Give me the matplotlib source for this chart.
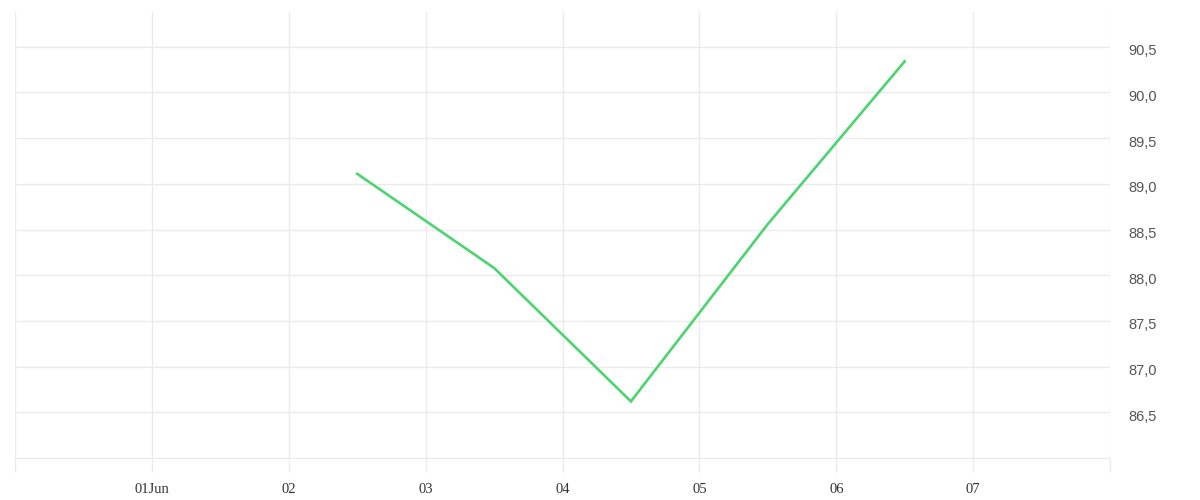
import matplotlib
matplotlib.use("Agg")
import matplotlib.pyplot as plt
import matplotlib.transforms as mtransforms
import pandas as pd

# Data
dates = pd.to_datetime(["2023-06-02 12:00", "2023-06-03 12:00", "2023-06-04 12:00",
                        "2023-06-05 12:00", "2023-06-06 12:00"])
values = [89.11, 88.08, 86.62, 88.56, 90.34]
tick_dates = pd.date_range("2023-05-31", "2023-06-08", freq="D")
tick_labels = ["", "01Jun", "02", "03", "04", "05", "06", "07", ""]
ytick_vals = [86.5, 87.0, 87.5, 88.0, 88.5, 89.0, 89.5, 90.0, 90.5]
ytick_labels = ["86,5", "87,0", "87,5", "88,0", "88,5", "89,0", "89,5", "90,0", "90,5"]

W, H = 1200, 500
fig = plt.figure(figsize=(W / 100, H / 100), dpi=100)
ax = fig.add_axes([15 / W, (H - 459) / H, (1110 - 15) / W, (459 - 12) / H])

grid_c = "#ebebeb"
ax.plot(dates, values, color="#4CD471", linewidth=1.9, solid_joinstyle="miter", zorder=3)

ax.set_xlim(tick_dates[0], tick_dates[-1])
ax.set_ylim(85.99, 90.88)

ax.set_xticks(tick_dates)
ax.set_xticklabels(tick_labels, family="Liberation Serif", fontsize=10.5, color="#333333")
ax.set_yticks([86.0] + ytick_vals)
ax.set_yticklabels([""] + ytick_labels, family="Liberation Sans", fontsize=10.5, color="#555555")

ax.yaxis.tick_right()
ax.tick_params(axis="y", length=0, pad=13)
ax.tick_params(axis="x", length=9, width=1, color=grid_c, pad=8)

offset = mtransforms.ScaledTranslation(0, -3 / 100, fig.dpi_scale_trans)
for lab in ax.get_yticklabels():
    lab.set_transform(lab.get_transform() + offset)

ax.grid(True, color=grid_c, linewidth=1)
ax.set_axisbelow(True)
for s in ax.spines.values():
    s.set_visible(False)

fig.savefig("out.png", dpi=100, facecolor="white")
